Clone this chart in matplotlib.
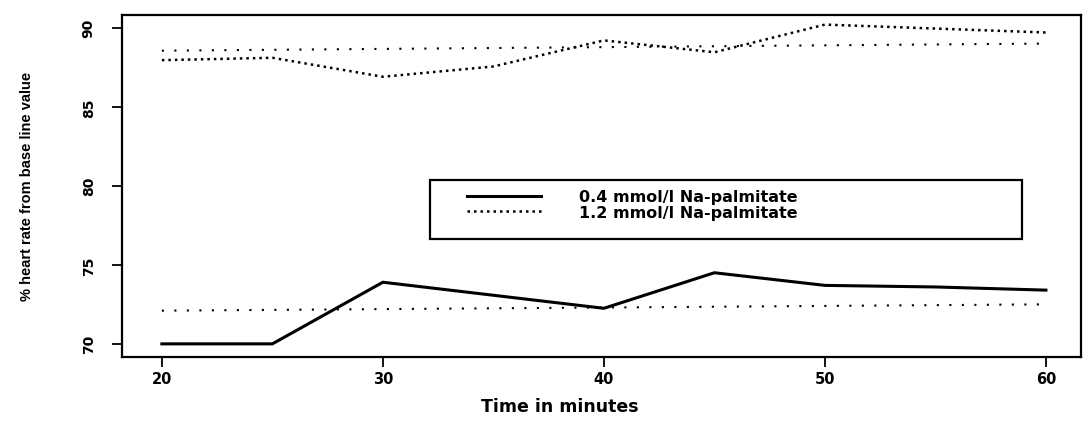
import numpy as np
import matplotlib.pyplot as plt
from matplotlib.patches import Rectangle

# data
t_low = [20, 25, 30, 40, 45, 50, 55, 60]
hr_low = [70.0, 70.0, 73.9, 72.25, 74.5, 73.7, 73.6, 73.4]
t_high = [20, 25, 30, 35, 40, 45, 50, 60]
hr_high = [87.95, 88.1, 86.9, 87.55, 89.2, 88.45, 90.2, 89.7]
# straight reference lines (start / end)
ref_t = [20, 60]
ref_low = [72.1, 72.5]
ref_high = [88.55, 89.0]

xticks = [20, 30, 40, 50, 60]
yticks = [70, 75, 80, 85, 90]

fig = plt.figure(figsize=(10.9, 4.27), dpi=100)
ax = fig.add_axes([0.112, 0.162, 0.88, 0.801])

ax.plot(t_low, hr_low, color="black", lw=2.2, solid_joinstyle="miter",
        label="0.4 mmol/l Na-palmitate")
ax.plot(t_high, hr_high, color="black", lw=1.8, linestyle=(0, (1, 1.6)),
        label="1.2 mmol/l Na-palmitate")
ax.plot(ref_t, ref_low, color="black", lw=1.5, linestyle=(0, (1, 5)))
ax.plot(ref_t, ref_high, color="black", lw=1.5, linestyle=(0, (1, 5)))

ax.set_xlim(18.2, 61.6)
ax.set_ylim(69.18, 90.82)
ax.set_xticks(xticks)
ax.set_yticks(yticks)
ax.set_xticklabels([str(v) for v in xticks], fontsize=10.5, fontweight="bold",
                   family="DejaVu Sans")
ax.set_yticklabels([str(v) for v in yticks], fontsize=10, fontweight="bold",
                   rotation=90, va="center", family="DejaVu Sans")
ax.tick_params(direction="out", length=7, width=1.3)
ax.tick_params(axis="x", pad=3)
ax.tick_params(axis="y", pad=12)
for s in ax.spines.values():
    s.set_linewidth(1.6)

ax.set_xlabel("Time in minutes", fontsize=12.5, fontweight="bold",
              family="DejaVu Sans")
ax.xaxis.set_label_coords(0.456, -0.117)
ax.set_ylabel("% heart rate from base line value", fontsize=10.5,
              fontweight="bold", family="Liberation Sans", labelpad=34)

# legend box drawn as its own rectangle, legend entries inside it
ax.add_patch(Rectangle((0.321, 0.345), 0.617, 0.1725, transform=ax.transAxes,
                       fill=False, edgecolor="black", lw=1.6, zorder=3))
leg = ax.legend(loc="upper left", bbox_to_anchor=(0.36, 0.49), frameon=False,
                handlelength=4.6, handletextpad=2.4, borderpad=0,
                borderaxespad=0, labelspacing=0.05,
                prop={"family": "DejaVu Sans", "weight": "bold", "size": 11.5})

fig.savefig("out.png", dpi=100)
